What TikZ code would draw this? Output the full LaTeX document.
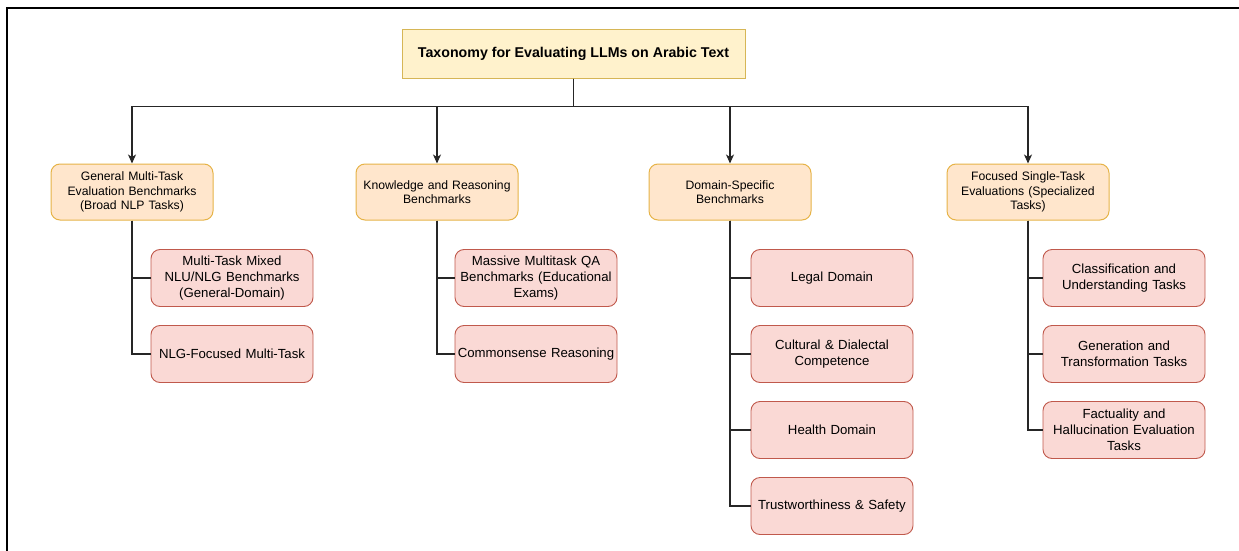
\documentclass[tikz,border=0pt]{standalone}
\usepackage{fontspec}
\setmainfont{Liberation Sans}
\usetikzlibrary{arrows.meta}
\definecolor{rootfill}{HTML}{FFF2CC}
\definecolor{rootdraw}{HTML}{D6B656}
\definecolor{catfill}{HTML}{FFE6CC}
\definecolor{catdraw}{HTML}{E6B347}
\definecolor{subfill}{HTML}{FAD9D5}
\definecolor{subdraw}{HTML}{C0594C}
\tikzset{
  rootbox/.style={draw=rootdraw,fill=rootfill,line width=1pt,minimum width=343pt,
    minimum height=48pt,font=\fontsize{14.2}{17}\selectfont\bfseries},
  catbox/.style={draw=catdraw,fill=catfill,line width=1pt,rounded corners=9pt,
    minimum width=162pt,minimum height=56pt,inner xsep=1pt,text width=159pt,align=center,
    font=\fontsize{12.2}{14.5}\selectfont},
  subbox/.style={draw=subdraw,fill=subfill,line width=0.9pt,rounded corners=9pt,
    minimum width=162pt,minimum height=57pt,inner xsep=1pt,text width=159pt,align=center,
    font=\fontsize{13.2}{16}\selectfont},
  link/.style={line width=1.2pt,draw=black!85},
}
\begin{document}
\begin{tikzpicture}[x=1pt,y=-1pt]
    \useasboundingbox (0,0) rectangle (1239,551);
    \draw[line width=1.5pt] (7,551) -- (7,8) -- (1239,8);
    \node[rootbox] (root) at (573.5,54) {Taxonomy for Evaluating LLMs on Arabic Text};
    % first level
    \node[catbox] (gen) at (132,192) {General Multi-Task\\Evaluation Benchmarks\\(Broad NLP Tasks)};
    \node[catbox] (know) at (437,192) {Knowledge and Reasoning\\Benchmarks};
    \node[catbox] (dom) at (730,192) {Domain-Specific\\Benchmarks};
    \node[catbox] (foc) at (1028,192) {Focused Single-Task\\Evaluations (Specialized\\Tasks)};
    \foreach \c in {gen,know,dom,foc}
    \draw[link,-{Stealth[length=9pt,width=8pt,inset=2.5pt]}] (root.south) -- ++(0,28) -| (\c.north);
    % second level
    \node[subbox] (gen1) at (232,278) {Multi-Task Mixed\\NLU/NLG Benchmarks\\(General-Domain)};
    \node[subbox] (gen2) at (232,354) {NLG-Focused Multi-Task};
    \node[subbox] (know1) at (536,278) {Massive Multitask QA\\Benchmarks (Educational\\Exams)};
    \node[subbox] (know2) at (536,354) {Commonsense Reasoning};
    \node[subbox] (dom1) at (832,278) {Legal Domain};
    \node[subbox] (dom2) at (832,354) {Cultural \& Dialectal\\Competence};
    \node[subbox] (dom3) at (832,430) {Health Domain};
    \node[subbox] (dom4) at (832,506) {Trustworthiness \& Safety};
    \node[subbox] (foc1) at (1124,278) {Classification and\\Understanding Tasks};
    \node[subbox] (foc2) at (1124,354) {Generation and\\Transformation Tasks};
    \node[subbox] (foc3) at (1124,430) {Factuality and\\Hallucination Evaluation\\Tasks};
    \foreach \p/\k in {gen/1,gen/2,know/1,know/2,dom/1,dom/2,dom/3,dom/4,foc/1,foc/2,foc/3}
    \draw[link] (\p.south) |- (\p\k.west);
  \end{tikzpicture}
\end{document}
